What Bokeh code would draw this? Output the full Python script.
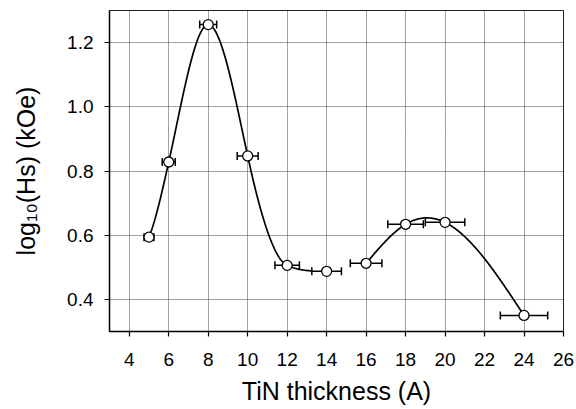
import numpy as np
from bokeh.plotting import figure
from bokeh.models import ColumnDataSource, Whisker, TeeHead, Range1d, FixedTicker
from bokeh.embed import file_html
from bokeh.resources import INLINE

# ---- data ----
thickness = [5, 6, 8, 10, 12, 14, 16, 18, 20, 24]
log_hs = [0.594, 0.828, 1.256, 0.847, 0.506, 0.4875, 0.5125, 0.634, 0.640, 0.350]
x_err = [0.25, 0.33, 0.43, 0.53, 0.62, 0.75, 0.80, 0.90, 1.00, 1.20]
segment = [1, 1, 1, 1, 1, 1, 2, 2, 2, 2]

x_ticks = [4, 6, 8, 10, 12, 14, 16, 18, 20, 22, 24, 26]
y_ticks = [0.4, 0.6, 0.8, 1.0, 1.2]
y_tick_labels = ["0.4", "0.6", "0.8", "1.0", "1.2"]

X0, X1 = 3, 26
Y0, Y1 = 0.3, 1.3
FONT = "Liberation Sans"


def gauss_fit(xk, yk):
    """least-squares fit y = a + b*exp(-(x-c)^2/(2 s^2)); grid over c, s, linear in a, b"""
    best = None
    for c in np.linspace(xk.min(), xk.max(), 181):
        for s in np.linspace(0.5, 4.0, 141):
            g = np.exp(-(xk - c) ** 2 / (2 * s * s))
            A = np.column_stack([np.ones_like(xk), g])
            coef, *_ = np.linalg.lstsq(A, yk, rcond=None)
            err = np.sum((A @ coef - yk) ** 2)
            if best is None or err < best[0]:
                best = (err, coef[0], coef[1], c, s)
    return best[1:]


def limit_slopes(xk, yk, mk):
    """Fritsch-Carlson limiter: keep the interpolant monotone between knots"""
    mk = mk.copy()
    d = np.diff(yk) / np.diff(xk)
    for i in range(len(d)):
        if d[i] == 0:
            mk[i] = mk[i + 1] = 0.0
            continue
        al, be = mk[i] / d[i], mk[i + 1] / d[i]
        if al < 0:
            mk[i] = 0.0; al = 0.0
        if be < 0:
            mk[i + 1] = 0.0; be = 0.0
        r = al * al + be * be
        if r > 9:
            tau = 3 / np.sqrt(r)
            mk[i] = tau * al * d[i]
            mk[i + 1] = tau * be * d[i]
    return mk


def hermite(xk, yk, mk, xs):
    idx = np.clip(np.searchsorted(xk, xs) - 1, 0, len(xk) - 2)
    h = xk[idx + 1] - xk[idx]
    t = (xs - xk[idx]) / h
    h00 = 2 * t**3 - 3 * t**2 + 1; h10 = t**3 - 2 * t**2 + t
    h01 = -2 * t**3 + 3 * t**2; h11 = t**3 - t**2
    return h00 * yk[idx] + h10 * h * mk[idx] + h01 * yk[idx + 1] + h11 * h * mk[idx + 1]


def natural_spline(xk, yk, xs):
    n = len(xk); h = np.diff(xk)
    A = np.zeros((n, n)); r = np.zeros(n)
    A[0, 0] = A[-1, -1] = 1
    for i in range(1, n - 1):
        A[i, i - 1] = h[i - 1]; A[i, i] = 2 * (h[i - 1] + h[i]); A[i, i + 1] = h[i]
        r[i] = 6 * ((yk[i + 1] - yk[i]) / h[i] - (yk[i] - yk[i - 1]) / h[i - 1])
    M = np.linalg.solve(A, r)
    idx = np.clip(np.searchsorted(xk, xs) - 1, 0, n - 2)
    a = xk[idx + 1] - xs; b = xs - xk[idx]; hh = h[idx]
    return (M[idx] * a**3 + M[idx + 1] * b**3) / (6 * hh) + \
        (yk[idx] / hh - M[idx] * hh / 6) * a + (yk[idx + 1] / hh - M[idx + 1] * hh / 6) * b


p = figure(width=576, height=409, x_range=Range1d(X0, X1), y_range=Range1d(Y0, Y1),
           output_backend="svg", toolbar_location=None,
           min_border_left=109, min_border_right=13, min_border_top=10, min_border_bottom=78)
p.background_fill_color = "white"
p.border_fill_color = "white"
p.outline_line_color = "#222222"
p.outline_line_width = 1

for ax, ticks in ((p.xaxis, x_ticks), (p.yaxis, y_ticks)):
    ax.ticker = FixedTicker(ticks=ticks)
    ax.axis_line_color = "black"
    ax.axis_line_width = 1.5
    ax.major_tick_line_color = "black"
    ax.major_tick_line_width = 1.2
    ax.major_tick_out = 5
    ax.major_tick_in = 0
    ax.minor_tick_out = 0
    ax.minor_tick_in = 0
    ax.major_label_text_font = FONT
    ax.major_label_text_font_size = "19px"
    ax.major_label_text_color = "black"
    ax.axis_label_text_font = FONT
    ax.axis_label_text_font_size = "25px"
    ax.axis_label_text_font_style = "normal"
    ax.axis_label_text_color = "black"
p.xaxis.major_label_standoff = 16
p.yaxis.major_label_standoff = 11
p.yaxis.major_label_overrides = dict(zip(y_ticks, y_tick_labels))
p.xaxis.axis_label = "TiN thickness (A)"
p.xaxis.axis_label_standoff = 8
p.yaxis.axis_label = "log\u2081\u2080(Hs) (kOe)"
p.yaxis.axis_label_standoff = 24

p.xgrid.ticker = FixedTicker(ticks=x_ticks)
p.ygrid.ticker = FixedTicker(ticks=y_ticks)
p.grid.grid_line_color = "#444444"
p.grid.grid_line_dash = "1 1"
p.grid.grid_line_width = 1

# fitted curves
tx = np.array(thickness, float); ty = np.array(log_hs, float); te = np.array(x_err, float)
seg = np.array(segment)

# segment 1: interpolate through the points with slopes taken from a Gaussian fit
s1 = seg == 1
x1k, y1k = tx[s1], ty[s1]
a, b, c, s = gauss_fit(x1k, y1k)
m1k = -b * (x1k - c) / s**2 * np.exp(-(x1k - c) ** 2 / (2 * s * s))
m1k = limit_slopes(x1k, y1k, m1k)
xs1 = np.linspace(x1k[0], x1k[-1] - te[s1][-1], 300)
p.line(xs1, hermite(x1k, y1k, m1k, xs1), line_color="black", line_width=1.7)

# segment 2: natural cubic spline
s2 = seg == 2
xs2 = np.linspace(tx[s2][0], tx[s2][-1], 300)
p.line(xs2, natural_spline(tx[s2], ty[s2], xs2), line_color="black", line_width=1.7)

src = ColumnDataSource(dict(x=tx, y=ty, lo=tx - te, hi=tx + te))
wh = Whisker(source=src, base="y", lower="lo", upper="hi", dimension="width",
             line_color="black", line_width=1.5,
             lower_head=TeeHead(size=8, line_color="black", line_width=1.5),
             upper_head=TeeHead(size=8, line_color="black", line_width=1.5))
p.add_layout(wh)
p.scatter("x", "y", source=src, size=10, fill_color="white", line_color="black", line_width=1.3)

open("out.html", "w").write(file_html(p, INLINE))
